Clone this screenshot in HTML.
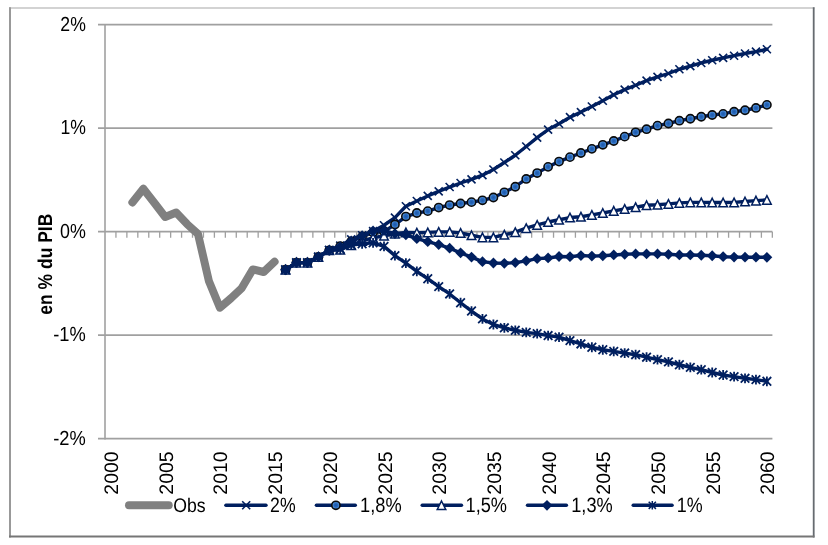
<!DOCTYPE html>
<html><head><meta charset="utf-8"><style>
svg text{text-rendering:geometricPrecision}
html,body{margin:0;padding:0;background:#fff;width:828px;height:545px;overflow:hidden;position:relative}
</style></head><body>
<svg width="828" height="545" viewBox="0 0 828 545" style="position:absolute;left:0;top:0;will-change:transform"><defs><radialGradient id="cg" cx="50%" cy="50%" r="50%"><stop offset="0" stop-color="#1d58a8"/><stop offset="0.5" stop-color="#2a6bbf"/><stop offset="0.85" stop-color="#5c9ce2"/><stop offset="1" stop-color="#3f7bc8"/></radialGradient></defs><rect x="0" y="0" width="828" height="545" fill="#fff"/><line x1="9" y1="8" x2="814.5" y2="8" stroke="#c4c4c4" stroke-width="1.6"/><line x1="10" y1="7.2" x2="10" y2="537.6" stroke="#999999" stroke-width="2"/><line x1="813.7" y1="7.2" x2="813.7" y2="537.6" stroke="#666b70" stroke-width="1.8"/><line x1="9" y1="536.6" x2="814.5" y2="536.6" stroke="#767676" stroke-width="2"/><line x1="98" y1="24.65" x2="772.4" y2="24.65" stroke="#a0a0a0" stroke-width="1.8"/><line x1="98" y1="128.15" x2="772.4" y2="128.15" stroke="#a0a0a0" stroke-width="1.8"/><line x1="98" y1="335.15" x2="772.4" y2="335.15" stroke="#a0a0a0" stroke-width="1.8"/><line x1="98" y1="438.65" x2="772.4" y2="438.65" stroke="#a0a0a0" stroke-width="1.8"/><line x1="98" y1="231.65" x2="772.4" y2="231.65" stroke="#a0a0a0" stroke-width="1.8"/><path d="M115.94 231.65V237.65M126.88 231.65V237.65M137.82 231.65V237.65M148.76 231.65V237.65M159.70 231.65V237.65M170.64 231.65V237.65M181.58 231.65V237.65M192.52 231.65V237.65M203.46 231.65V237.65M214.40 231.65V237.65M225.34 231.65V237.65M236.28 231.65V237.65M247.22 231.65V237.65M258.16 231.65V237.65M269.10 231.65V237.65M280.04 231.65V237.65M290.98 231.65V237.65M301.92 231.65V237.65M312.86 231.65V237.65M323.80 231.65V237.65M334.74 231.65V237.65M345.68 231.65V237.65M356.62 231.65V237.65M367.56 231.65V237.65M378.50 231.65V237.65M389.44 231.65V237.65M400.38 231.65V237.65M411.32 231.65V237.65M422.26 231.65V237.65M433.20 231.65V237.65M444.14 231.65V237.65M455.08 231.65V237.65M466.02 231.65V237.65M476.96 231.65V237.65M487.90 231.65V237.65M498.84 231.65V237.65M509.78 231.65V237.65M520.72 231.65V237.65M531.66 231.65V237.65M542.60 231.65V237.65M553.54 231.65V237.65M564.48 231.65V237.65M575.42 231.65V237.65M586.36 231.65V237.65M597.30 231.65V237.65M608.24 231.65V237.65M619.18 231.65V237.65M630.12 231.65V237.65M641.06 231.65V237.65M652.00 231.65V237.65M662.94 231.65V237.65M673.88 231.65V237.65M684.82 231.65V237.65M695.76 231.65V237.65M706.70 231.65V237.65M717.64 231.65V237.65M728.58 231.65V237.65M739.52 231.65V237.65M750.46 231.65V237.65M761.40 231.65V237.65M772.34 231.65V237.65" stroke="#a0a0a0" stroke-width="1.3" fill="none"/><line x1="105" y1="23.90" x2="105" y2="439.40" stroke="#a0a0a0" stroke-width="1.6"/><text transform="matrix(0.8824,0,0,1.0143,60.318,30.650)" x="0" y="0" font-family="Liberation Sans, sans-serif" font-size="20" fill="#000">2%</text><text transform="matrix(0.8801,0,0,1.0216,60.380,134.150)" x="0" y="0" font-family="Liberation Sans, sans-serif" font-size="20" fill="#000">1%</text><text transform="matrix(0.8942,0,0,1.0143,59.985,237.650)" x="0" y="0" font-family="Liberation Sans, sans-serif" font-size="20" fill="#000">0%</text><text transform="matrix(0.9147,0,0,1.0216,53.277,341.150)" x="0" y="0" font-family="Liberation Sans, sans-serif" font-size="20" fill="#000">-1%</text><text transform="matrix(0.9147,0,0,1.0143,53.277,444.650)" x="0" y="0" font-family="Liberation Sans, sans-serif" font-size="20" fill="#000">-2%</text><text transform="matrix(0,-0.9720,0.9786,0,118.000,494.672)" x="0" y="0" font-family="Liberation Sans, sans-serif" font-size="20" fill="#000">2000</text><text transform="matrix(0,-0.9742,0.9786,0,172.700,494.674)" x="0" y="0" font-family="Liberation Sans, sans-serif" font-size="20" fill="#000">2005</text><text transform="matrix(0,-0.9720,0.9786,0,227.400,494.672)" x="0" y="0" font-family="Liberation Sans, sans-serif" font-size="20" fill="#000">2010</text><text transform="matrix(0,-0.9742,0.9786,0,282.100,494.674)" x="0" y="0" font-family="Liberation Sans, sans-serif" font-size="20" fill="#000">2015</text><text transform="matrix(0,-0.9720,0.9786,0,336.800,494.672)" x="0" y="0" font-family="Liberation Sans, sans-serif" font-size="20" fill="#000">2020</text><text transform="matrix(0,-0.9742,0.9786,0,391.500,494.674)" x="0" y="0" font-family="Liberation Sans, sans-serif" font-size="20" fill="#000">2025</text><text transform="matrix(0,-0.9720,0.9786,0,446.200,494.672)" x="0" y="0" font-family="Liberation Sans, sans-serif" font-size="20" fill="#000">2030</text><text transform="matrix(0,-0.9742,0.9786,0,500.900,494.674)" x="0" y="0" font-family="Liberation Sans, sans-serif" font-size="20" fill="#000">2035</text><text transform="matrix(0,-0.9720,0.9786,0,555.600,494.672)" x="0" y="0" font-family="Liberation Sans, sans-serif" font-size="20" fill="#000">2040</text><text transform="matrix(0,-0.9742,0.9786,0,610.300,494.674)" x="0" y="0" font-family="Liberation Sans, sans-serif" font-size="20" fill="#000">2045</text><text transform="matrix(0,-0.9720,0.9786,0,665.000,494.672)" x="0" y="0" font-family="Liberation Sans, sans-serif" font-size="20" fill="#000">2050</text><text transform="matrix(0,-0.9742,0.9786,0,719.700,494.674)" x="0" y="0" font-family="Liberation Sans, sans-serif" font-size="20" fill="#000">2055</text><text transform="matrix(0,-0.9720,0.9786,0,774.400,494.672)" x="0" y="0" font-family="Liberation Sans, sans-serif" font-size="20" fill="#000">2060</text><text transform="matrix(0,-0.8743,1.0000,0,51.800,314.699)" x="0" y="0" font-family="Liberation Sans, sans-serif" font-size="20" font-weight="bold" fill="#000">en % du PIB</text><polyline points="132.38,202.46 143.32,188.70 154.26,202.67 165.20,216.95 176.14,212.50 187.08,224.09 198.02,234.03 208.96,281.33 219.90,307.72 230.84,298.41 241.78,288.06 252.72,269.43 263.66,272.01 274.60,261.67" fill="none" stroke="#808080" stroke-width="8" stroke-linejoin="round" stroke-linecap="round"/><polyline points="285.54,269.74 296.48,262.60 307.42,262.60 318.36,256.90 329.30,250.28 340.24,245.62 351.18,239.41 362.12,235.27 373.06,231.13 384.00,225.23 394.94,217.68 405.88,206.29 416.82,201.01 427.76,195.94 438.70,191.39 449.64,187.04 460.58,183.00 471.52,179.38 482.46,175.14 493.40,169.55 504.34,162.51 515.28,155.27 526.22,146.47 537.16,137.67 548.10,129.60 559.04,123.80 569.98,117.18 580.92,112.11 591.86,106.52 602.80,100.72 613.74,94.82 624.68,89.65 635.62,85.20 646.56,80.64 657.50,76.92 668.44,73.50 679.38,69.26 690.32,66.15 701.26,62.95 712.20,60.25 723.14,57.87 734.08,55.70 745.02,53.53 755.96,51.66 766.90,49.28" fill="none" stroke="#001f5f" stroke-width="3.4" stroke-linejoin="round" stroke-linecap="round"/><path d="M281.54 265.74L289.54 273.74M281.54 273.74L289.54 265.74" stroke="#001f5f" stroke-width="1.6" fill="none"/><path d="M292.48 258.60L300.48 266.60M292.48 266.60L300.48 258.60" stroke="#001f5f" stroke-width="1.6" fill="none"/><path d="M303.42 258.60L311.42 266.60M303.42 266.60L311.42 258.60" stroke="#001f5f" stroke-width="1.6" fill="none"/><path d="M314.36 252.90L322.36 260.90M314.36 260.90L322.36 252.90" stroke="#001f5f" stroke-width="1.6" fill="none"/><path d="M325.30 246.28L333.30 254.28M325.30 254.28L333.30 246.28" stroke="#001f5f" stroke-width="1.6" fill="none"/><path d="M336.24 241.62L344.24 249.62M336.24 249.62L344.24 241.62" stroke="#001f5f" stroke-width="1.6" fill="none"/><path d="M347.18 235.41L355.18 243.41M347.18 243.41L355.18 235.41" stroke="#001f5f" stroke-width="1.6" fill="none"/><path d="M358.12 231.27L366.12 239.27M358.12 239.27L366.12 231.27" stroke="#001f5f" stroke-width="1.6" fill="none"/><path d="M369.06 227.13L377.06 235.13M369.06 235.13L377.06 227.13" stroke="#001f5f" stroke-width="1.6" fill="none"/><path d="M380.00 221.23L388.00 229.23M380.00 229.23L388.00 221.23" stroke="#001f5f" stroke-width="1.6" fill="none"/><path d="M390.94 213.68L398.94 221.68M390.94 221.68L398.94 213.68" stroke="#001f5f" stroke-width="1.6" fill="none"/><path d="M401.88 202.29L409.88 210.29M401.88 210.29L409.88 202.29" stroke="#001f5f" stroke-width="1.6" fill="none"/><path d="M412.82 197.01L420.82 205.01M412.82 205.01L420.82 197.01" stroke="#001f5f" stroke-width="1.6" fill="none"/><path d="M423.76 191.94L431.76 199.94M423.76 199.94L431.76 191.94" stroke="#001f5f" stroke-width="1.6" fill="none"/><path d="M434.70 187.39L442.70 195.39M434.70 195.39L442.70 187.39" stroke="#001f5f" stroke-width="1.6" fill="none"/><path d="M445.64 183.04L453.64 191.04M445.64 191.04L453.64 183.04" stroke="#001f5f" stroke-width="1.6" fill="none"/><path d="M456.58 179.00L464.58 187.00M456.58 187.00L464.58 179.00" stroke="#001f5f" stroke-width="1.6" fill="none"/><path d="M467.52 175.38L475.52 183.38M467.52 183.38L475.52 175.38" stroke="#001f5f" stroke-width="1.6" fill="none"/><path d="M478.46 171.14L486.46 179.14M478.46 179.14L486.46 171.14" stroke="#001f5f" stroke-width="1.6" fill="none"/><path d="M489.40 165.55L497.40 173.55M489.40 173.55L497.40 165.55" stroke="#001f5f" stroke-width="1.6" fill="none"/><path d="M500.34 158.51L508.34 166.51M500.34 166.51L508.34 158.51" stroke="#001f5f" stroke-width="1.6" fill="none"/><path d="M511.28 151.27L519.28 159.27M511.28 159.27L519.28 151.27" stroke="#001f5f" stroke-width="1.6" fill="none"/><path d="M522.22 142.47L530.22 150.47M522.22 150.47L530.22 142.47" stroke="#001f5f" stroke-width="1.6" fill="none"/><path d="M533.16 133.67L541.16 141.67M533.16 141.67L541.16 133.67" stroke="#001f5f" stroke-width="1.6" fill="none"/><path d="M544.10 125.60L552.10 133.60M544.10 133.60L552.10 125.60" stroke="#001f5f" stroke-width="1.6" fill="none"/><path d="M555.04 119.80L563.04 127.80M555.04 127.80L563.04 119.80" stroke="#001f5f" stroke-width="1.6" fill="none"/><path d="M565.98 113.18L573.98 121.18M565.98 121.18L573.98 113.18" stroke="#001f5f" stroke-width="1.6" fill="none"/><path d="M576.92 108.11L584.92 116.11M576.92 116.11L584.92 108.11" stroke="#001f5f" stroke-width="1.6" fill="none"/><path d="M587.86 102.52L595.86 110.52M587.86 110.52L595.86 102.52" stroke="#001f5f" stroke-width="1.6" fill="none"/><path d="M598.80 96.72L606.80 104.72M598.80 104.72L606.80 96.72" stroke="#001f5f" stroke-width="1.6" fill="none"/><path d="M609.74 90.82L617.74 98.82M609.74 98.82L617.74 90.82" stroke="#001f5f" stroke-width="1.6" fill="none"/><path d="M620.68 85.65L628.68 93.65M620.68 93.65L628.68 85.65" stroke="#001f5f" stroke-width="1.6" fill="none"/><path d="M631.62 81.20L639.62 89.20M631.62 89.20L639.62 81.20" stroke="#001f5f" stroke-width="1.6" fill="none"/><path d="M642.56 76.64L650.56 84.64M642.56 84.64L650.56 76.64" stroke="#001f5f" stroke-width="1.6" fill="none"/><path d="M653.50 72.92L661.50 80.92M653.50 80.92L661.50 72.92" stroke="#001f5f" stroke-width="1.6" fill="none"/><path d="M664.44 69.50L672.44 77.50M664.44 77.50L672.44 69.50" stroke="#001f5f" stroke-width="1.6" fill="none"/><path d="M675.38 65.26L683.38 73.26M675.38 73.26L683.38 65.26" stroke="#001f5f" stroke-width="1.6" fill="none"/><path d="M686.32 62.15L694.32 70.15M686.32 70.15L694.32 62.15" stroke="#001f5f" stroke-width="1.6" fill="none"/><path d="M697.26 58.95L705.26 66.95M697.26 66.95L705.26 58.95" stroke="#001f5f" stroke-width="1.6" fill="none"/><path d="M708.20 56.25L716.20 64.25M708.20 64.25L716.20 56.25" stroke="#001f5f" stroke-width="1.6" fill="none"/><path d="M719.14 53.87L727.14 61.87M719.14 61.87L727.14 53.87" stroke="#001f5f" stroke-width="1.6" fill="none"/><path d="M730.08 51.70L738.08 59.70M730.08 59.70L738.08 51.70" stroke="#001f5f" stroke-width="1.6" fill="none"/><path d="M741.02 49.53L749.02 57.53M741.02 57.53L749.02 49.53" stroke="#001f5f" stroke-width="1.6" fill="none"/><path d="M751.96 47.66L759.96 55.66M751.96 55.66L759.96 47.66" stroke="#001f5f" stroke-width="1.6" fill="none"/><path d="M762.90 45.28L770.90 53.28M762.90 53.28L770.90 45.28" stroke="#001f5f" stroke-width="1.6" fill="none"/><polyline points="285.54,269.74 296.48,262.60 307.42,262.60 318.36,256.90 329.30,250.28 340.24,246.14 351.18,241.48 362.12,236.62 373.06,232.48 384.00,231.65 394.94,224.51 405.88,216.54 416.82,213.02 427.76,211.16 438.70,207.53 449.64,205.05 460.58,203.50 471.52,202.15 482.46,200.29 493.40,197.50 504.34,192.32 515.28,186.73 526.22,178.97 537.16,173.07 548.10,166.86 559.04,161.58 569.98,157.13 580.92,152.99 591.86,148.85 602.80,144.81 613.74,140.98 624.68,136.64 635.62,132.29 646.56,129.19 657.50,125.67 668.44,123.49 679.38,120.70 690.32,118.73 701.26,116.77 712.20,115.01 723.14,113.87 734.08,111.69 745.02,110.24 755.96,107.97 766.90,104.86" fill="none" stroke="#001f5f" stroke-width="3.4" stroke-linejoin="round" stroke-linecap="round"/><circle cx="285.54" cy="269.74" r="4.1" fill="url(#cg)" stroke="#0a0a0a" stroke-width="1.6"/><circle cx="296.48" cy="262.60" r="4.1" fill="url(#cg)" stroke="#0a0a0a" stroke-width="1.6"/><circle cx="307.42" cy="262.60" r="4.1" fill="url(#cg)" stroke="#0a0a0a" stroke-width="1.6"/><circle cx="318.36" cy="256.90" r="4.1" fill="url(#cg)" stroke="#0a0a0a" stroke-width="1.6"/><circle cx="329.30" cy="250.28" r="4.1" fill="url(#cg)" stroke="#0a0a0a" stroke-width="1.6"/><circle cx="340.24" cy="246.14" r="4.1" fill="url(#cg)" stroke="#0a0a0a" stroke-width="1.6"/><circle cx="351.18" cy="241.48" r="4.1" fill="url(#cg)" stroke="#0a0a0a" stroke-width="1.6"/><circle cx="362.12" cy="236.62" r="4.1" fill="url(#cg)" stroke="#0a0a0a" stroke-width="1.6"/><circle cx="373.06" cy="232.48" r="4.1" fill="url(#cg)" stroke="#0a0a0a" stroke-width="1.6"/><circle cx="384.00" cy="231.65" r="4.1" fill="url(#cg)" stroke="#0a0a0a" stroke-width="1.6"/><circle cx="394.94" cy="224.51" r="4.1" fill="url(#cg)" stroke="#0a0a0a" stroke-width="1.6"/><circle cx="405.88" cy="216.54" r="4.1" fill="url(#cg)" stroke="#0a0a0a" stroke-width="1.6"/><circle cx="416.82" cy="213.02" r="4.1" fill="url(#cg)" stroke="#0a0a0a" stroke-width="1.6"/><circle cx="427.76" cy="211.16" r="4.1" fill="url(#cg)" stroke="#0a0a0a" stroke-width="1.6"/><circle cx="438.70" cy="207.53" r="4.1" fill="url(#cg)" stroke="#0a0a0a" stroke-width="1.6"/><circle cx="449.64" cy="205.05" r="4.1" fill="url(#cg)" stroke="#0a0a0a" stroke-width="1.6"/><circle cx="460.58" cy="203.50" r="4.1" fill="url(#cg)" stroke="#0a0a0a" stroke-width="1.6"/><circle cx="471.52" cy="202.15" r="4.1" fill="url(#cg)" stroke="#0a0a0a" stroke-width="1.6"/><circle cx="482.46" cy="200.29" r="4.1" fill="url(#cg)" stroke="#0a0a0a" stroke-width="1.6"/><circle cx="493.40" cy="197.50" r="4.1" fill="url(#cg)" stroke="#0a0a0a" stroke-width="1.6"/><circle cx="504.34" cy="192.32" r="4.1" fill="url(#cg)" stroke="#0a0a0a" stroke-width="1.6"/><circle cx="515.28" cy="186.73" r="4.1" fill="url(#cg)" stroke="#0a0a0a" stroke-width="1.6"/><circle cx="526.22" cy="178.97" r="4.1" fill="url(#cg)" stroke="#0a0a0a" stroke-width="1.6"/><circle cx="537.16" cy="173.07" r="4.1" fill="url(#cg)" stroke="#0a0a0a" stroke-width="1.6"/><circle cx="548.10" cy="166.86" r="4.1" fill="url(#cg)" stroke="#0a0a0a" stroke-width="1.6"/><circle cx="559.04" cy="161.58" r="4.1" fill="url(#cg)" stroke="#0a0a0a" stroke-width="1.6"/><circle cx="569.98" cy="157.13" r="4.1" fill="url(#cg)" stroke="#0a0a0a" stroke-width="1.6"/><circle cx="580.92" cy="152.99" r="4.1" fill="url(#cg)" stroke="#0a0a0a" stroke-width="1.6"/><circle cx="591.86" cy="148.85" r="4.1" fill="url(#cg)" stroke="#0a0a0a" stroke-width="1.6"/><circle cx="602.80" cy="144.81" r="4.1" fill="url(#cg)" stroke="#0a0a0a" stroke-width="1.6"/><circle cx="613.74" cy="140.98" r="4.1" fill="url(#cg)" stroke="#0a0a0a" stroke-width="1.6"/><circle cx="624.68" cy="136.64" r="4.1" fill="url(#cg)" stroke="#0a0a0a" stroke-width="1.6"/><circle cx="635.62" cy="132.29" r="4.1" fill="url(#cg)" stroke="#0a0a0a" stroke-width="1.6"/><circle cx="646.56" cy="129.19" r="4.1" fill="url(#cg)" stroke="#0a0a0a" stroke-width="1.6"/><circle cx="657.50" cy="125.67" r="4.1" fill="url(#cg)" stroke="#0a0a0a" stroke-width="1.6"/><circle cx="668.44" cy="123.49" r="4.1" fill="url(#cg)" stroke="#0a0a0a" stroke-width="1.6"/><circle cx="679.38" cy="120.70" r="4.1" fill="url(#cg)" stroke="#0a0a0a" stroke-width="1.6"/><circle cx="690.32" cy="118.73" r="4.1" fill="url(#cg)" stroke="#0a0a0a" stroke-width="1.6"/><circle cx="701.26" cy="116.77" r="4.1" fill="url(#cg)" stroke="#0a0a0a" stroke-width="1.6"/><circle cx="712.20" cy="115.01" r="4.1" fill="url(#cg)" stroke="#0a0a0a" stroke-width="1.6"/><circle cx="723.14" cy="113.87" r="4.1" fill="url(#cg)" stroke="#0a0a0a" stroke-width="1.6"/><circle cx="734.08" cy="111.69" r="4.1" fill="url(#cg)" stroke="#0a0a0a" stroke-width="1.6"/><circle cx="745.02" cy="110.24" r="4.1" fill="url(#cg)" stroke="#0a0a0a" stroke-width="1.6"/><circle cx="755.96" cy="107.97" r="4.1" fill="url(#cg)" stroke="#0a0a0a" stroke-width="1.6"/><circle cx="766.90" cy="104.86" r="4.1" fill="url(#cg)" stroke="#0a0a0a" stroke-width="1.6"/><polyline points="285.54,269.74 296.48,262.60 307.42,262.60 318.36,256.90 329.30,250.28 340.24,249.76 351.18,245.11 362.12,240.97 373.06,237.86 384.00,235.79 394.94,233.72 405.88,232.37 416.82,232.69 427.76,232.37 438.70,231.86 449.64,231.86 460.58,233.00 471.52,235.27 482.46,237.34 493.40,237.34 504.34,234.75 515.28,232.17 526.22,228.13 537.16,224.92 548.10,222.02 559.04,219.75 569.98,217.57 580.92,216.75 591.86,214.88 602.80,213.02 613.74,210.85 624.68,208.98 635.62,207.22 646.56,205.26 657.50,204.74 668.44,203.91 679.38,202.88 690.32,202.36 701.26,202.36 712.20,202.57 723.14,202.57 734.08,202.36 745.02,201.53 755.96,200.60 766.90,199.98" fill="none" stroke="#001f5f" stroke-width="3.4" stroke-linejoin="round" stroke-linecap="round"/><path d="M285.54 265.44L289.84 274.04L281.24 274.04Z" fill="#fff" stroke="#001f5f" stroke-width="1.5" stroke-linejoin="miter"/><path d="M296.48 258.30L300.78 266.90L292.18 266.90Z" fill="#fff" stroke="#001f5f" stroke-width="1.5" stroke-linejoin="miter"/><path d="M307.42 258.30L311.72 266.90L303.12 266.90Z" fill="#fff" stroke="#001f5f" stroke-width="1.5" stroke-linejoin="miter"/><path d="M318.36 252.60L322.66 261.20L314.06 261.20Z" fill="#fff" stroke="#001f5f" stroke-width="1.5" stroke-linejoin="miter"/><path d="M329.30 245.98L333.60 254.58L325.00 254.58Z" fill="#fff" stroke="#001f5f" stroke-width="1.5" stroke-linejoin="miter"/><path d="M340.24 245.46L344.54 254.06L335.94 254.06Z" fill="#fff" stroke="#001f5f" stroke-width="1.5" stroke-linejoin="miter"/><path d="M351.18 240.81L355.48 249.41L346.88 249.41Z" fill="#fff" stroke="#001f5f" stroke-width="1.5" stroke-linejoin="miter"/><path d="M362.12 236.66L366.42 245.27L357.82 245.27Z" fill="#fff" stroke="#001f5f" stroke-width="1.5" stroke-linejoin="miter"/><path d="M373.06 233.56L377.36 242.16L368.76 242.16Z" fill="#fff" stroke="#001f5f" stroke-width="1.5" stroke-linejoin="miter"/><path d="M384.00 231.49L388.30 240.09L379.70 240.09Z" fill="#fff" stroke="#001f5f" stroke-width="1.5" stroke-linejoin="miter"/><path d="M394.94 229.42L399.24 238.02L390.64 238.02Z" fill="#fff" stroke="#001f5f" stroke-width="1.5" stroke-linejoin="miter"/><path d="M405.88 228.07L410.18 236.67L401.58 236.67Z" fill="#fff" stroke="#001f5f" stroke-width="1.5" stroke-linejoin="miter"/><path d="M416.82 228.38L421.12 236.99L412.52 236.99Z" fill="#fff" stroke="#001f5f" stroke-width="1.5" stroke-linejoin="miter"/><path d="M427.76 228.07L432.06 236.67L423.46 236.67Z" fill="#fff" stroke="#001f5f" stroke-width="1.5" stroke-linejoin="miter"/><path d="M438.70 227.56L443.00 236.16L434.40 236.16Z" fill="#fff" stroke="#001f5f" stroke-width="1.5" stroke-linejoin="miter"/><path d="M449.64 227.56L453.94 236.16L445.34 236.16Z" fill="#fff" stroke="#001f5f" stroke-width="1.5" stroke-linejoin="miter"/><path d="M460.58 228.70L464.88 237.30L456.28 237.30Z" fill="#fff" stroke="#001f5f" stroke-width="1.5" stroke-linejoin="miter"/><path d="M471.52 230.97L475.82 239.57L467.22 239.57Z" fill="#fff" stroke="#001f5f" stroke-width="1.5" stroke-linejoin="miter"/><path d="M482.46 233.04L486.76 241.64L478.16 241.64Z" fill="#fff" stroke="#001f5f" stroke-width="1.5" stroke-linejoin="miter"/><path d="M493.40 233.04L497.70 241.64L489.10 241.64Z" fill="#fff" stroke="#001f5f" stroke-width="1.5" stroke-linejoin="miter"/><path d="M504.34 230.45L508.64 239.06L500.04 239.06Z" fill="#fff" stroke="#001f5f" stroke-width="1.5" stroke-linejoin="miter"/><path d="M515.28 227.87L519.58 236.47L510.98 236.47Z" fill="#fff" stroke="#001f5f" stroke-width="1.5" stroke-linejoin="miter"/><path d="M526.22 223.83L530.52 232.43L521.92 232.43Z" fill="#fff" stroke="#001f5f" stroke-width="1.5" stroke-linejoin="miter"/><path d="M537.16 220.62L541.46 229.22L532.86 229.22Z" fill="#fff" stroke="#001f5f" stroke-width="1.5" stroke-linejoin="miter"/><path d="M548.10 217.72L552.40 226.32L543.80 226.32Z" fill="#fff" stroke="#001f5f" stroke-width="1.5" stroke-linejoin="miter"/><path d="M559.04 215.45L563.34 224.05L554.74 224.05Z" fill="#fff" stroke="#001f5f" stroke-width="1.5" stroke-linejoin="miter"/><path d="M569.98 213.27L574.28 221.87L565.68 221.87Z" fill="#fff" stroke="#001f5f" stroke-width="1.5" stroke-linejoin="miter"/><path d="M580.92 212.45L585.22 221.05L576.62 221.05Z" fill="#fff" stroke="#001f5f" stroke-width="1.5" stroke-linejoin="miter"/><path d="M591.86 210.58L596.16 219.18L587.56 219.18Z" fill="#fff" stroke="#001f5f" stroke-width="1.5" stroke-linejoin="miter"/><path d="M602.80 208.72L607.10 217.32L598.50 217.32Z" fill="#fff" stroke="#001f5f" stroke-width="1.5" stroke-linejoin="miter"/><path d="M613.74 206.55L618.04 215.15L609.44 215.15Z" fill="#fff" stroke="#001f5f" stroke-width="1.5" stroke-linejoin="miter"/><path d="M624.68 204.68L628.98 213.28L620.38 213.28Z" fill="#fff" stroke="#001f5f" stroke-width="1.5" stroke-linejoin="miter"/><path d="M635.62 202.92L639.92 211.52L631.32 211.52Z" fill="#fff" stroke="#001f5f" stroke-width="1.5" stroke-linejoin="miter"/><path d="M646.56 200.96L650.86 209.56L642.26 209.56Z" fill="#fff" stroke="#001f5f" stroke-width="1.5" stroke-linejoin="miter"/><path d="M657.50 200.44L661.80 209.04L653.20 209.04Z" fill="#fff" stroke="#001f5f" stroke-width="1.5" stroke-linejoin="miter"/><path d="M668.44 199.61L672.74 208.21L664.14 208.21Z" fill="#fff" stroke="#001f5f" stroke-width="1.5" stroke-linejoin="miter"/><path d="M679.38 198.58L683.68 207.18L675.08 207.18Z" fill="#fff" stroke="#001f5f" stroke-width="1.5" stroke-linejoin="miter"/><path d="M690.32 198.06L694.62 206.66L686.02 206.66Z" fill="#fff" stroke="#001f5f" stroke-width="1.5" stroke-linejoin="miter"/><path d="M701.26 198.06L705.56 206.66L696.96 206.66Z" fill="#fff" stroke="#001f5f" stroke-width="1.5" stroke-linejoin="miter"/><path d="M712.20 198.27L716.50 206.87L707.90 206.87Z" fill="#fff" stroke="#001f5f" stroke-width="1.5" stroke-linejoin="miter"/><path d="M723.14 198.27L727.44 206.87L718.84 206.87Z" fill="#fff" stroke="#001f5f" stroke-width="1.5" stroke-linejoin="miter"/><path d="M734.08 198.06L738.38 206.66L729.78 206.66Z" fill="#fff" stroke="#001f5f" stroke-width="1.5" stroke-linejoin="miter"/><path d="M745.02 197.23L749.32 205.83L740.72 205.83Z" fill="#fff" stroke="#001f5f" stroke-width="1.5" stroke-linejoin="miter"/><path d="M755.96 196.30L760.26 204.90L751.66 204.90Z" fill="#fff" stroke="#001f5f" stroke-width="1.5" stroke-linejoin="miter"/><path d="M766.90 195.68L771.20 204.28L762.60 204.28Z" fill="#fff" stroke="#001f5f" stroke-width="1.5" stroke-linejoin="miter"/><polyline points="285.54,269.74 296.48,262.60 307.42,262.60 318.36,256.90 329.30,250.28 340.24,246.66 351.18,240.97 362.12,235.69 373.06,230.93 384.00,230.62 394.94,233.72 405.88,234.86 416.82,238.69 427.76,241.69 438.70,244.59 449.64,248.21 460.58,252.87 471.52,257.11 482.46,261.67 493.40,263.01 504.34,263.32 515.28,262.60 526.22,260.84 537.16,258.66 548.10,257.94 559.04,256.49 569.98,256.70 580.92,255.56 591.86,256.08 602.80,255.77 613.74,254.94 624.68,254.32 635.62,253.90 646.56,253.90 657.50,253.90 668.44,254.32 679.38,254.94 690.32,254.94 701.26,255.25 712.20,255.77 723.14,256.70 734.08,257.11 745.02,257.21 755.96,257.21 766.90,257.32" fill="none" stroke="#001f5f" stroke-width="3.4" stroke-linejoin="round" stroke-linecap="round"/><path d="M285.54 264.34L290.94 269.74L285.54 275.14L280.14 269.74Z" fill="#001f5f"/><path d="M296.48 257.20L301.88 262.60L296.48 268.00L291.08 262.60Z" fill="#001f5f"/><path d="M307.42 257.20L312.82 262.60L307.42 268.00L302.02 262.60Z" fill="#001f5f"/><path d="M318.36 251.50L323.76 256.90L318.36 262.30L312.96 256.90Z" fill="#001f5f"/><path d="M329.30 244.88L334.70 250.28L329.30 255.68L323.90 250.28Z" fill="#001f5f"/><path d="M340.24 241.26L345.64 246.66L340.24 252.06L334.84 246.66Z" fill="#001f5f"/><path d="M351.18 235.56L356.58 240.97L351.18 246.37L345.78 240.97Z" fill="#001f5f"/><path d="M362.12 230.29L367.52 235.69L362.12 241.09L356.72 235.69Z" fill="#001f5f"/><path d="M373.06 225.53L378.46 230.93L373.06 236.33L367.66 230.93Z" fill="#001f5f"/><path d="M384.00 225.22L389.40 230.62L384.00 236.02L378.60 230.62Z" fill="#001f5f"/><path d="M394.94 228.32L400.34 233.72L394.94 239.12L389.54 233.72Z" fill="#001f5f"/><path d="M405.88 229.46L411.28 234.86L405.88 240.26L400.48 234.86Z" fill="#001f5f"/><path d="M416.82 233.29L422.22 238.69L416.82 244.09L411.42 238.69Z" fill="#001f5f"/><path d="M427.76 236.29L433.16 241.69L427.76 247.09L422.36 241.69Z" fill="#001f5f"/><path d="M438.70 239.19L444.10 244.59L438.70 249.99L433.30 244.59Z" fill="#001f5f"/><path d="M449.64 242.81L455.04 248.21L449.64 253.61L444.24 248.21Z" fill="#001f5f"/><path d="M460.58 247.47L465.98 252.87L460.58 258.27L455.18 252.87Z" fill="#001f5f"/><path d="M471.52 251.71L476.92 257.11L471.52 262.51L466.12 257.11Z" fill="#001f5f"/><path d="M482.46 256.27L487.86 261.67L482.46 267.06L477.06 261.67Z" fill="#001f5f"/><path d="M493.40 257.61L498.80 263.01L493.40 268.41L488.00 263.01Z" fill="#001f5f"/><path d="M504.34 257.92L509.74 263.32L504.34 268.72L498.94 263.32Z" fill="#001f5f"/><path d="M515.28 257.20L520.68 262.60L515.28 268.00L509.88 262.60Z" fill="#001f5f"/><path d="M526.22 255.44L531.62 260.84L526.22 266.24L520.82 260.84Z" fill="#001f5f"/><path d="M537.16 253.26L542.56 258.66L537.16 264.06L531.76 258.66Z" fill="#001f5f"/><path d="M548.10 252.54L553.50 257.94L548.10 263.34L542.70 257.94Z" fill="#001f5f"/><path d="M559.04 251.09L564.44 256.49L559.04 261.89L553.64 256.49Z" fill="#001f5f"/><path d="M569.98 251.30L575.38 256.70L569.98 262.10L564.58 256.70Z" fill="#001f5f"/><path d="M580.92 250.16L586.32 255.56L580.92 260.96L575.52 255.56Z" fill="#001f5f"/><path d="M591.86 250.68L597.26 256.08L591.86 261.48L586.46 256.08Z" fill="#001f5f"/><path d="M602.80 250.37L608.20 255.77L602.80 261.17L597.40 255.77Z" fill="#001f5f"/><path d="M613.74 249.54L619.14 254.94L613.74 260.34L608.34 254.94Z" fill="#001f5f"/><path d="M624.68 248.92L630.08 254.32L624.68 259.72L619.28 254.32Z" fill="#001f5f"/><path d="M635.62 248.50L641.02 253.90L635.62 259.30L630.22 253.90Z" fill="#001f5f"/><path d="M646.56 248.50L651.96 253.90L646.56 259.30L641.16 253.90Z" fill="#001f5f"/><path d="M657.50 248.50L662.90 253.90L657.50 259.30L652.10 253.90Z" fill="#001f5f"/><path d="M668.44 248.92L673.84 254.32L668.44 259.72L663.04 254.32Z" fill="#001f5f"/><path d="M679.38 249.54L684.78 254.94L679.38 260.34L673.98 254.94Z" fill="#001f5f"/><path d="M690.32 249.54L695.72 254.94L690.32 260.34L684.92 254.94Z" fill="#001f5f"/><path d="M701.26 249.85L706.66 255.25L701.26 260.65L695.86 255.25Z" fill="#001f5f"/><path d="M712.20 250.37L717.60 255.77L712.20 261.17L706.80 255.77Z" fill="#001f5f"/><path d="M723.14 251.30L728.54 256.70L723.14 262.10L717.74 256.70Z" fill="#001f5f"/><path d="M734.08 251.71L739.48 257.11L734.08 262.51L728.68 257.11Z" fill="#001f5f"/><path d="M745.02 251.81L750.42 257.21L745.02 262.61L739.62 257.21Z" fill="#001f5f"/><path d="M755.96 251.81L761.36 257.21L755.96 262.61L750.56 257.21Z" fill="#001f5f"/><path d="M766.90 251.92L772.30 257.32L766.90 262.72L761.50 257.32Z" fill="#001f5f"/><polyline points="285.54,269.74 296.48,262.60 307.42,262.60 318.36,256.90 329.30,250.28 340.24,249.25 351.18,245.11 362.12,243.76 373.06,242.83 384.00,246.35 394.94,255.66 405.88,263.22 416.82,271.29 427.76,278.74 438.70,286.61 449.64,293.96 460.58,302.75 471.52,311.03 482.46,318.90 493.40,324.49 504.34,327.80 515.28,330.29 526.22,332.36 537.16,333.60 548.10,335.56 559.04,337.12 569.98,340.64 580.92,343.95 591.86,347.26 602.80,349.74 613.74,351.40 624.68,353.06 635.62,354.71 646.56,357.20 657.50,359.68 668.44,361.85 679.38,364.75 690.32,367.34 701.26,369.72 712.20,372.51 723.14,375.00 734.08,376.65 745.02,378.31 755.96,379.65 766.90,381.31" fill="none" stroke="#001f5f" stroke-width="3.4" stroke-linejoin="round" stroke-linecap="round"/><path d="M281.24 265.44L289.84 274.04M281.24 274.04L289.84 265.44M285.54 264.84L285.54 274.64" stroke="#001f5f" stroke-width="1.8" fill="none"/><path d="M292.18 258.30L300.78 266.90M292.18 266.90L300.78 258.30M296.48 257.70L296.48 267.50" stroke="#001f5f" stroke-width="1.8" fill="none"/><path d="M303.12 258.30L311.72 266.90M303.12 266.90L311.72 258.30M307.42 257.70L307.42 267.50" stroke="#001f5f" stroke-width="1.8" fill="none"/><path d="M314.06 252.60L322.66 261.20M314.06 261.20L322.66 252.60M318.36 252.00L318.36 261.80" stroke="#001f5f" stroke-width="1.8" fill="none"/><path d="M325.00 245.98L333.60 254.58M325.00 254.58L333.60 245.98M329.30 245.38L329.30 255.18" stroke="#001f5f" stroke-width="1.8" fill="none"/><path d="M335.94 244.94L344.54 253.55M335.94 253.55L344.54 244.94M340.24 244.34L340.24 254.15" stroke="#001f5f" stroke-width="1.8" fill="none"/><path d="M346.88 240.81L355.48 249.41M346.88 249.41L355.48 240.81M351.18 240.21L351.18 250.01" stroke="#001f5f" stroke-width="1.8" fill="none"/><path d="M357.82 239.46L366.42 248.06M357.82 248.06L366.42 239.46M362.12 238.86L362.12 248.66" stroke="#001f5f" stroke-width="1.8" fill="none"/><path d="M368.76 238.53L377.36 247.13M368.76 247.13L377.36 238.53M373.06 237.93L373.06 247.73" stroke="#001f5f" stroke-width="1.8" fill="none"/><path d="M379.70 242.05L388.30 250.65M379.70 250.65L388.30 242.05M384.00 241.45L384.00 251.25" stroke="#001f5f" stroke-width="1.8" fill="none"/><path d="M390.64 251.36L399.24 259.96M390.64 259.96L399.24 251.36M394.94 250.76L394.94 260.56" stroke="#001f5f" stroke-width="1.8" fill="none"/><path d="M401.58 258.92L410.18 267.52M401.58 267.52L410.18 258.92M405.88 258.32L405.88 268.12" stroke="#001f5f" stroke-width="1.8" fill="none"/><path d="M412.52 266.99L421.12 275.59M412.52 275.59L421.12 266.99M416.82 266.39L416.82 276.19" stroke="#001f5f" stroke-width="1.8" fill="none"/><path d="M423.46 274.44L432.06 283.04M423.46 283.04L432.06 274.44M427.76 273.84L427.76 283.64" stroke="#001f5f" stroke-width="1.8" fill="none"/><path d="M434.40 282.31L443.00 290.91M434.40 290.91L443.00 282.31M438.70 281.71L438.70 291.51" stroke="#001f5f" stroke-width="1.8" fill="none"/><path d="M445.34 289.66L453.94 298.26M445.34 298.26L453.94 289.66M449.64 289.06L449.64 298.86" stroke="#001f5f" stroke-width="1.8" fill="none"/><path d="M456.28 298.45L464.88 307.05M456.28 307.05L464.88 298.45M460.58 297.85L460.58 307.65" stroke="#001f5f" stroke-width="1.8" fill="none"/><path d="M467.22 306.73L475.82 315.33M467.22 315.33L475.82 306.73M471.52 306.13L471.52 315.93" stroke="#001f5f" stroke-width="1.8" fill="none"/><path d="M478.16 314.60L486.76 323.20M478.16 323.20L486.76 314.60M482.46 314.00L482.46 323.80" stroke="#001f5f" stroke-width="1.8" fill="none"/><path d="M489.10 320.19L497.70 328.79M489.10 328.79L497.70 320.19M493.40 319.59L493.40 329.39" stroke="#001f5f" stroke-width="1.8" fill="none"/><path d="M500.04 323.50L508.64 332.10M500.04 332.10L508.64 323.50M504.34 322.90L504.34 332.70" stroke="#001f5f" stroke-width="1.8" fill="none"/><path d="M510.98 325.99L519.58 334.59M510.98 334.59L519.58 325.99M515.28 325.39L515.28 335.19" stroke="#001f5f" stroke-width="1.8" fill="none"/><path d="M521.92 328.06L530.52 336.66M521.92 336.66L530.52 328.06M526.22 327.46L526.22 337.26" stroke="#001f5f" stroke-width="1.8" fill="none"/><path d="M532.86 329.30L541.46 337.90M532.86 337.90L541.46 329.30M537.16 328.70L537.16 338.50" stroke="#001f5f" stroke-width="1.8" fill="none"/><path d="M543.80 331.26L552.40 339.86M543.80 339.86L552.40 331.26M548.10 330.66L548.10 340.46" stroke="#001f5f" stroke-width="1.8" fill="none"/><path d="M554.74 332.82L563.34 341.42M554.74 341.42L563.34 332.82M559.04 332.22L559.04 342.02" stroke="#001f5f" stroke-width="1.8" fill="none"/><path d="M565.68 336.34L574.28 344.94M565.68 344.94L574.28 336.34M569.98 335.74L569.98 345.54" stroke="#001f5f" stroke-width="1.8" fill="none"/><path d="M576.62 339.65L585.22 348.25M576.62 348.25L585.22 339.65M580.92 339.05L580.92 348.85" stroke="#001f5f" stroke-width="1.8" fill="none"/><path d="M587.56 342.96L596.16 351.56M587.56 351.56L596.16 342.96M591.86 342.36L591.86 352.16" stroke="#001f5f" stroke-width="1.8" fill="none"/><path d="M598.50 345.44L607.10 354.04M598.50 354.04L607.10 345.44M602.80 344.84L602.80 354.64" stroke="#001f5f" stroke-width="1.8" fill="none"/><path d="M609.44 347.10L618.04 355.70M609.44 355.70L618.04 347.10M613.74 346.50L613.74 356.30" stroke="#001f5f" stroke-width="1.8" fill="none"/><path d="M620.38 348.76L628.98 357.36M620.38 357.36L628.98 348.76M624.68 348.16L624.68 357.96" stroke="#001f5f" stroke-width="1.8" fill="none"/><path d="M631.32 350.41L639.92 359.01M631.32 359.01L639.92 350.41M635.62 349.81L635.62 359.61" stroke="#001f5f" stroke-width="1.8" fill="none"/><path d="M642.26 352.90L650.86 361.50M642.26 361.50L650.86 352.90M646.56 352.30L646.56 362.10" stroke="#001f5f" stroke-width="1.8" fill="none"/><path d="M653.20 355.38L661.80 363.98M653.20 363.98L661.80 355.38M657.50 354.78L657.50 364.58" stroke="#001f5f" stroke-width="1.8" fill="none"/><path d="M664.14 357.55L672.74 366.15M664.14 366.15L672.74 357.55M668.44 356.95L668.44 366.75" stroke="#001f5f" stroke-width="1.8" fill="none"/><path d="M675.08 360.45L683.68 369.05M675.08 369.05L683.68 360.45M679.38 359.85L679.38 369.65" stroke="#001f5f" stroke-width="1.8" fill="none"/><path d="M686.02 363.04L694.62 371.64M686.02 371.64L694.62 363.04M690.32 362.44L690.32 372.24" stroke="#001f5f" stroke-width="1.8" fill="none"/><path d="M696.96 365.42L705.56 374.02M696.96 374.02L705.56 365.42M701.26 364.82L701.26 374.62" stroke="#001f5f" stroke-width="1.8" fill="none"/><path d="M707.90 368.21L716.50 376.81M707.90 376.81L716.50 368.21M712.20 367.61L712.20 377.41" stroke="#001f5f" stroke-width="1.8" fill="none"/><path d="M718.84 370.70L727.44 379.30M718.84 379.30L727.44 370.70M723.14 370.10L723.14 379.90" stroke="#001f5f" stroke-width="1.8" fill="none"/><path d="M729.78 372.35L738.38 380.95M729.78 380.95L738.38 372.35M734.08 371.75L734.08 381.55" stroke="#001f5f" stroke-width="1.8" fill="none"/><path d="M740.72 374.01L749.32 382.61M740.72 382.61L749.32 374.01M745.02 373.41L745.02 383.21" stroke="#001f5f" stroke-width="1.8" fill="none"/><path d="M751.66 375.35L760.26 383.95M751.66 383.95L760.26 375.35M755.96 374.75L755.96 384.56" stroke="#001f5f" stroke-width="1.8" fill="none"/><path d="M762.60 377.01L771.20 385.61M762.60 385.61L771.20 377.01M766.90 376.41L766.90 386.21" stroke="#001f5f" stroke-width="1.8" fill="none"/><line x1="129" y1="505.3" x2="168.7" y2="505.3" stroke="#808080" stroke-width="8" stroke-linecap="round"/><text transform="matrix(0.8832,0,0,0.9793,173.205,511.500)" x="0" y="0" font-family="Liberation Sans, sans-serif" font-size="20">Obs</text><line x1="225.89999999999998" y1="505.3" x2="266.0" y2="505.3" stroke="#001f5f" stroke-width="3.4" stroke-linecap="round"/><path d="M242.20 501.30L250.20 509.30M242.20 509.30L250.20 501.30" stroke="#001f5f" stroke-width="1.6" fill="none"/><text transform="matrix(0.8824,0,0,1.0357,270.118,511.700)" x="0" y="0" font-family="Liberation Sans, sans-serif" font-size="20">2%</text><line x1="316.4" y1="505.3" x2="355.3" y2="505.3" stroke="#001f5f" stroke-width="3.4" stroke-linecap="round"/><circle cx="335.90" cy="505.30" r="4.1" fill="url(#cg)" stroke="#0a0a0a" stroke-width="1.6"/><text transform="matrix(0.9124,0,0,1.0357,360.031,511.700)" x="0" y="0" font-family="Liberation Sans, sans-serif" font-size="20">1,8%</text><line x1="422.2" y1="505.3" x2="461.5" y2="505.3" stroke="#001f5f" stroke-width="3.4" stroke-linecap="round"/><path d="M441.50 501.00L445.80 509.60L437.20 509.60Z" fill="#fff" stroke="#001f5f" stroke-width="1.5" stroke-linejoin="miter"/><text transform="matrix(0.9101,0,0,1.0432,465.535,511.700)" x="0" y="0" font-family="Liberation Sans, sans-serif" font-size="20">1,5%</text><line x1="527.5" y1="505.3" x2="566.4" y2="505.3" stroke="#001f5f" stroke-width="3.4" stroke-linecap="round"/><path d="M547.00 499.90L552.40 505.30L547.00 510.70L541.60 505.30Z" fill="#001f5f"/><text transform="matrix(0.9101,0,0,1.0357,571.235,511.700)" x="0" y="0" font-family="Liberation Sans, sans-serif" font-size="20">1,3%</text><line x1="633.2" y1="505.3" x2="672.0999999999999" y2="505.3" stroke="#001f5f" stroke-width="3.4" stroke-linecap="round"/><path d="M648.70 501.70L655.90 508.90M648.70 508.90L655.90 501.70M652.30 501.10L652.30 509.50" stroke="#001f5f" stroke-width="1.5" fill="none"/><text transform="matrix(0.8951,0,0,1.0432,676.757,511.700)" x="0" y="0" font-family="Liberation Sans, sans-serif" font-size="20">1%</text></svg>
</body></html>
